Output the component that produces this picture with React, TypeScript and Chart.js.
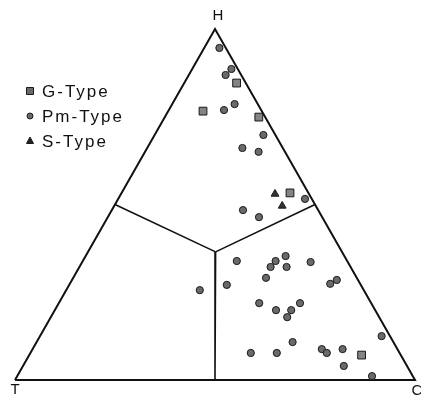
import React, { useEffect, useRef } from "react";
import { Chart, registerables } from "chart.js";

Chart.register(...registerables);

// Ternary compositions in percent: [H, C, T]
const gType: [number, number, number][] = [
  [76.6, 8.7, 14.7],
  [84.6, 13.1, 2.3],
  [74.9, 23.5, 1.6],
  [53.3, 42.1, 4.6],
  [7.1, 83.1, 9.8],
];

const pmType: [number, number, number][] = [
  [94.6, 3.8, 1.6],
  [88.6, 9.8, 1.6],
  [86.9, 9.2, 3.9],
  [78.6, 15.6, 5.8],
  [76.9, 13.8, 9.3],
  [69.8, 27.2, 3.0],
  [66.1, 23.8, 10.1],
  [65.0, 28.4, 6.6],
  [51.6, 46.7, 1.7],
  [48.4, 32.8, 18.8],
  [46.4, 37.8, 15.8],
  [33.9, 38.5, 27.6],
  [35.3, 50.0, 14.7],
  [33.9, 48.2, 17.9],
  [32.2, 47.8, 20.0],
  [32.2, 51.8, 16.0],
  [33.6, 57.1, 9.3],
  [29.1, 48.2, 22.7],
  [28.5, 66.2, 5.3],
  [27.4, 65.1, 7.5],
  [25.6, 33.4, 41.0],
  [27.1, 39.4, 33.5],
  [21.9, 50.1, 28.0],
  [21.9, 60.3, 17.8],
  [19.9, 55.3, 24.8],
  [19.9, 59.1, 21.0],
  [17.9, 59.1, 23.0],
  [10.8, 64.0, 25.2],
  [7.7, 55.1, 37.2],
  [7.7, 61.6, 30.7],
  [8.8, 72.3, 18.9],
  [7.7, 74.1, 18.2],
  [8.8, 77.5, 13.7],
  [4.0, 80.2, 15.8],
  [1.1, 88.7, 10.2],
  [12.5, 85.4, 2.1],
];

const sType: [number, number, number][] = [
  [53.0, 38.5, 8.5],
  [49.6, 42.0, 8.4],
];

// Triangle outline vertices: T, C, H, T
const outline: [number, number, number][] = [
  [0, 0, 100],
  [0, 100, 0],
  [100, 0, 0],
  [0, 0, 100],
];

// Field boundaries meet at a common node
const node: [number, number, number] = [36.5, 31.9, 31.6];
const boundaryEnds: [number, number, number][] = [
  [50, 0, 50],
  [50, 50, 0],
  [0, 50, 50],
];

const vertexLabels = ["H", "T", "C"];
const legendLabels = ["G-Type", "Pm-Type", "S-Type"];

const S3 = Math.sqrt(3) / 2;
const toXY = (p: [number, number, number]) => ({ x: p[1] + p[0] / 2, y: p[0] * S3 });

export default function App() {
  const ref = useRef<HTMLCanvasElement>(null);

  useEffect(() => {
    if (!ref.current) return;
    const markerFill = "#6a6a6a";
    const markerEdge = "#1a1a1a";

    const labelPlugin = {
      id: "ternaryLabels",
      afterDraw(chart: any) {
        const ctx = chart.ctx;
        const xs = chart.scales.x;
        const ys = chart.scales.y;
        const px = (p: [number, number, number]) => {
          const c = toXY(p);
          return [xs.getPixelForValue(c.x), ys.getPixelForValue(c.y)];
        };
        ctx.save();
        ctx.fillStyle = "#111";
        ctx.font = "15px 'Liberation Sans', Arial, sans-serif";
        ctx.textAlign = "center";
        ctx.textBaseline = "middle";
        const [hx, hy] = px([100, 0, 0]);
        const [tx, ty] = px([0, 0, 100]);
        const [cx, cy] = px([0, 100, 0]);
        ctx.fillText(vertexLabels[0], hx + 3, hy - 13);
        ctx.fillText(vertexLabels[1], tx, ty + 10);
        ctx.fillText(vertexLabels[2], cx + 2, cy + 11);

        // legend
        const lx = 30;
        const rows = [91, 116, 141];
        ctx.textAlign = "left";
        ctx.font = "17px 'Liberation Sans', Arial, sans-serif";
        try { (ctx as any).letterSpacing = "2px"; } catch (e) {}
        legendLabels.forEach((lab, i) => {
          const y = rows[i];
          ctx.fillStyle = markerFill;
          ctx.strokeStyle = markerEdge;
          ctx.lineWidth = 1;
          ctx.beginPath();
          if (i === 0) {
            ctx.rect(lx - 3.5, y - 3.5, 7, 7);
          } else if (i === 1) {
            ctx.arc(lx, y, 3, 0, Math.PI * 2);
          } else {
            ctx.moveTo(lx, y - 4);
            ctx.lineTo(lx + 3.5, y + 2.5);
            ctx.lineTo(lx - 3.5, y + 2.5);
            ctx.closePath();
          }
          if (i === 2) ctx.fillStyle = "#222";
          ctx.fill();
          ctx.stroke();
          ctx.fillStyle = "#111";
          ctx.fillText(lab, lx + 12, y + 1);
        });
        ctx.restore();
      },
    };

    const boundaryDatasets = boundaryEnds.map((e) => ({
      type: "line" as const,
      data: [toXY(node), toXY(e)],
      borderColor: "#111",
      borderWidth: 1.6,
      pointRadius: 0,
      showLine: true,
      fill: false,
      order: 10,
    }));

    const chart = new Chart(ref.current, {
      type: "scatter",
      data: {
        datasets: [
          {
            type: "line",
            data: outline.map(toXY),
            borderColor: "#111",
            borderWidth: 2,
            pointRadius: 0,
            showLine: true,
            fill: false,
            order: 10,
          } as any,
          ...boundaryDatasets,
          {
            label: legendLabels[0],
            data: gType.map(toXY),
            pointStyle: "rect",
            pointRadius: 5.5,
            backgroundColor: "#848484",
            borderColor: markerEdge,
            borderWidth: 1,
            order: 1,
          },
          {
            label: legendLabels[1],
            data: pmType.map(toXY),
            pointStyle: "circle",
            pointRadius: 3.6,
            backgroundColor: markerFill,
            borderColor: markerEdge,
            borderWidth: 1,
            order: 1,
          },
          {
            label: legendLabels[2],
            data: sType.map(toXY),
            pointStyle: "triangle",
            pointRadius: 4.5,
            backgroundColor: "#333",
            borderColor: markerEdge,
            borderWidth: 1,
            order: 1,
          },
        ],
      },
      options: {
        animation: false,
        responsive: false,
        devicePixelRatio: 1,
        layout: { padding: 0, autoPadding: false },
        plugins: { legend: { display: false }, tooltip: { enabled: false } },
        scales: {
          x: { type: "linear", min: -3.75, max: 101.5, display: false },
          y: { type: "linear", min: -4.688, max: 93.757, display: false },
        },
      },
      plugins: [labelPlugin],
    });
    return () => chart.destroy();
  }, []);

  return (
    <div style={{ position: "absolute", left: 0, top: 0, width: 421, height: 399, background: "#fff" }}>
      <canvas ref={ref} width={421} height={399} style={{ display: "block" }} />
    </div>
  );
}
